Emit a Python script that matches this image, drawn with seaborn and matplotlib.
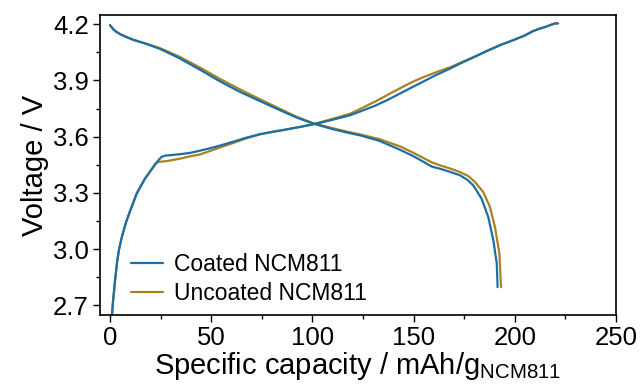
import matplotlib
matplotlib.use("Agg")
import matplotlib.pyplot as plt
import seaborn as sns
from matplotlib.ticker import MultipleLocator

# Coated NCM811 - charge / discharge
coated_charge_cap = [1.0, 1.5, 2.5, 3.5, 4.5, 6, 8, 10, 13.2, 17.3, 21.4, 24, 25.5, 27, 30.5, 35, 39.5, 44.5,
                     52, 60, 67, 74, 80, 87, 94, 100, 105, 110, 118.6, 125, 131, 137, 143.3, 149, 155, 161,
                     168, 174, 180, 186, 192.7, 200, 205, 209, 212, 215, 218, 219.9, 221]
coated_charge_v = [2.65, 2.72, 2.83, 2.93, 3.0, 3.07, 3.145, 3.205, 3.296, 3.376, 3.438, 3.475, 3.492, 3.498,
                   3.502, 3.507, 3.513, 3.525, 3.545, 3.57, 3.593, 3.613, 3.625, 3.638, 3.652, 3.665, 3.677,
                   3.69, 3.714, 3.74, 3.765, 3.795, 3.83, 3.862, 3.895, 3.928, 3.963, 3.995, 4.025, 4.056,
                   4.088, 4.118, 4.14, 4.163, 4.175, 4.185, 4.197, 4.204, 4.204]
coated_dis_cap = [0, 1.5, 3, 5, 8, 11.4, 15, 18, 21, 24.7, 29, 34, 39, 44.5, 54, 64.2, 74, 84, 92, 100.3,
                  110, 117, 123.5, 133, 143.3, 150, 155, 159, 163, 168, 172.9, 176.5, 179.5, 183.6, 186.9,
                  189.4, 191.1, 191.5]
coated_dis_v = [4.195, 4.175, 4.16, 4.147, 4.132, 4.117, 4.105, 4.095, 4.083, 4.068, 4.046, 4.02, 3.99,
                3.957, 3.897, 3.839, 3.79, 3.741, 3.703, 3.67, 3.64, 3.622, 3.607, 3.578, 3.53, 3.495, 3.465,
                3.44, 3.429, 3.412, 3.394, 3.37, 3.34, 3.269, 3.171, 3.047, 2.922, 2.797]

# Uncoated NCM811 - charge / discharge
uncoated_charge_cap = [1.0, 1.5, 2.5, 3.5, 4.5, 6, 8, 10, 13.2, 17.3, 21.4, 22.5, 24, 28.3, 34.9, 39.5, 44.5,
                       52, 60, 67, 74, 80, 87, 94, 100, 105, 110, 118.6, 125, 131, 137, 143.3, 149, 155, 161,
                       168, 174, 180, 186, 192.7, 200, 205, 209, 212, 215, 218, 220, 221.5]
uncoated_charge_v = [2.65, 2.72, 2.83, 2.93, 3.0, 3.07, 3.145, 3.205, 3.296, 3.376, 3.438, 3.458, 3.465,
                     3.47, 3.483, 3.495, 3.505, 3.533, 3.563, 3.59, 3.612, 3.625, 3.638, 3.652, 3.665, 3.68,
                     3.695, 3.722, 3.755, 3.787, 3.822, 3.858, 3.89, 3.918, 3.943, 3.97, 3.998, 4.026, 4.056,
                     4.088, 4.118, 4.14, 4.163, 4.175, 4.185, 4.197, 4.204, 4.204]
uncoated_dis_cap = [0, 1.5, 3, 5, 8, 11.4, 15, 18, 21, 24.7, 29, 34, 39, 44.5, 54, 64.2, 74, 84, 92, 100.3,
                    110, 117, 123.5, 133, 143.3, 150, 155, 159, 163, 168, 172.9, 177, 180.3, 184.4, 187.7,
                    190.2, 192.4, 193.2]
uncoated_dis_v = [4.195, 4.175, 4.16, 4.147, 4.132, 4.117, 4.105, 4.095, 4.085, 4.072, 4.052, 4.028, 4.0,
                  3.968, 3.91, 3.852, 3.80, 3.748, 3.707, 3.672, 3.645, 3.627, 3.612, 3.587, 3.548, 3.513,
                  3.485, 3.463, 3.447, 3.43, 3.411, 3.39, 3.358, 3.305, 3.225, 3.118, 2.976, 2.797]

x_ticks = [0, 50, 100, 150, 200, 250]
y_ticks = [2.7, 3.0, 3.3, 3.6, 3.9, 4.2]

blue = "#1b6fa6"
gold = "#a8821f"

sns.set_style("ticks")
plt.rcParams['font.family'] = ['Liberation Sans', 'DejaVu Sans']
plt.rcParams['mathtext.default'] = 'regular'
plt.rcParams['text.color'] = 'black'
plt.rcParams['axes.labelcolor'] = 'black'
plt.rcParams['xtick.color'] = 'black'
plt.rcParams['ytick.color'] = 'black'

fig, ax = plt.subplots(figsize=(6.4, 3.89), dpi=100)
fig.subplots_adjust(left=0.156, right=0.9625, top=0.961, bottom=0.19)

# uncoated first, coated drawn on top
lw = 1.6
sns.lineplot(x=uncoated_charge_cap, y=uncoated_charge_v, sort=False, estimator=None, color=gold, lw=lw, ax=ax)
sns.lineplot(x=uncoated_dis_cap, y=uncoated_dis_v, sort=False, estimator=None, color=gold, lw=lw, ax=ax)
sns.lineplot(x=coated_charge_cap, y=coated_charge_v, sort=False, estimator=None, color=blue, lw=lw, ax=ax)
sns.lineplot(x=coated_dis_cap, y=coated_dis_v, sort=False, estimator=None, color=blue, lw=lw, ax=ax)

h_coat, = ax.plot([], [], color=blue, lw=lw)
h_unc, = ax.plot([], [], color=gold, lw=lw)
ax.legend([h_coat, h_unc], ['Coated NCM811', 'Uncoated NCM811'], loc='lower left',
          bbox_to_anchor=(0.02, -0.035), frameon=False, fontsize=16.5, handlelength=1.4,
          handletextpad=0.5, labelspacing=0.25)

ax.set_xlim(-5, 250)
ax.set_ylim(2.648, 4.248)
ax.set_xticks(x_ticks)
ax.set_yticks(y_ticks)
ax.xaxis.set_minor_locator(MultipleLocator(25))
ax.yaxis.set_minor_locator(MultipleLocator(0.15))
ax.tick_params(which='major', labelsize=18.5, length=5, width=1, pad=3)
ax.tick_params(which='minor', length=3, width=1)

ax.set_xlabel('Specific capacity / mAh/g$_{NCM811}$', fontsize=21, labelpad=0)
ax.set_ylabel('Voltage / V', fontsize=21, labelpad=3)

for s in ax.spines.values():
    s.set_visible(True)
    s.set_linewidth(1.2)
    s.set_color('black')

plt.savefig('out.png', dpi=100)
